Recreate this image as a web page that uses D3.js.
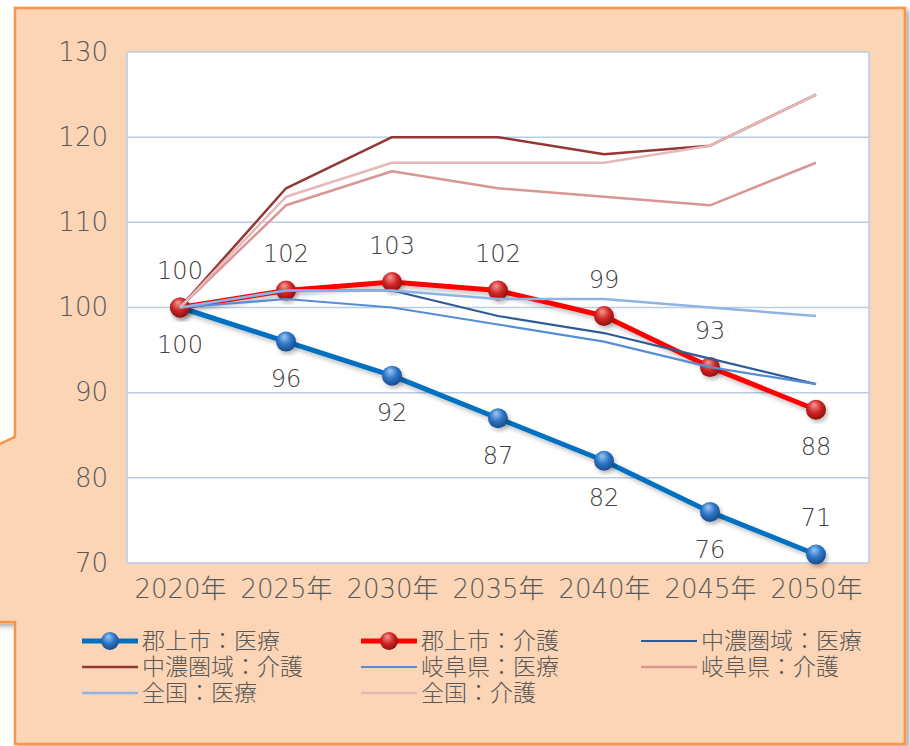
<!DOCTYPE html>
<html lang="ja">
<head>
<meta charset="utf-8">
<title>医療・介護需要の推移</title>
<script src="https://d3js.org/d3.v7.min.js"></script>
<style>
  html, body { margin: 0; padding: 0; background: #ffffff; }
  svg { display: block; }
  .tick-label { font-family: "DejaVu Sans", "Noto Sans CJK JP", sans-serif; font-size: 26px; font-weight: 200; fill: #595959; }
  .data-label { font-family: "DejaVu Sans", sans-serif; font-size: 24px; font-weight: 200; fill: #404040; }
  .legend-label { font-family: "Noto Sans CJK JP", sans-serif; font-size: 23px; font-weight: 300; fill: #595959; }
</style>
</head>
<body>
<svg id="chart" width="910" height="746"></svg>
<script>
// ---- data ----
var years = ["2020年", "2025年", "2030年", "2035年", "2040年", "2045年", "2050年"];
var yTicks = [70, 80, 90, 100, 110, 120, 130];

var gujoIryo    = [100, 96, 92, 87, 82, 76, 71];
var gujoKaigo   = [100, 102, 103, 102, 99, 93, 88];
var chunoIryo   = [100, 102, 102, 99, 97, 94, 91];
var chunoKaigo  = [100, 114, 120, 120, 118, 119, 125];
var gifuIryo    = [100, 101, 100, 98, 96, 93, 91];
var gifuKaigo   = [100, 112, 116, 114, 113, 112, 117];
var zenkokuIryo = [100, 102, 102, 101, 101, 100, 99];
var zenkokuKaigo= [100, 113, 117, 117, 117, 119, 125];

var series = [
  {name: "郡上市：医療",   values: gujoIryo,    color: "#0070C0", width: 5,   marker: "blue", label: "below"},
  {name: "郡上市：介護",   values: gujoKaigo,   color: "#FF0000", width: 5,   marker: "red",  label: "above"},
  {name: "中濃圏域：医療", values: chunoIryo,   color: "#2F5C96", width: 2.2},
  {name: "中濃圏域：介護", values: chunoKaigo,  color: "#943634", width: 2.5},
  {name: "岐阜県：医療",   values: gifuIryo,    color: "#558ED5", width: 2.2},
  {name: "岐阜県：介護",   values: gifuKaigo,   color: "#D99694", width: 2.5},
  {name: "全国：医療",     values: zenkokuIryo, color: "#8EB4E3", width: 2.5},
  {name: "全国：介護",     values: zenkokuKaigo,color: "#E6B9B8", width: 2.5}
];

var svg = d3.select("#chart");
var defs = svg.append("defs");

// shadows
var sh = defs.append("filter").attr("id", "boxShadow")
  .attr("x", "-10%").attr("y", "-10%").attr("width", "130%").attr("height", "130%");
sh.append("feDropShadow").attr("dx", 3).attr("dy", 3).attr("stdDeviation", 2.5)
  .attr("flood-color", "#000").attr("flood-opacity", 0.35);

var lsh = defs.append("filter").attr("id", "lineShadow")
  .attr("x", "-10%").attr("y", "-10%").attr("width", "130%").attr("height", "130%");
lsh.append("feDropShadow").attr("dx", 2).attr("dy", 3).attr("stdDeviation", 2)
  .attr("flood-color", "#000").attr("flood-opacity", 0.25);

// sphere gradients for the markers
function sphere(id, light, mid, dark) {
  var g = defs.append("radialGradient").attr("id", id)
    .attr("cx", "45%").attr("cy", "40%").attr("r", "60%").attr("fx", "40%").attr("fy", "25%");
  g.append("stop").attr("offset", "0%").attr("stop-color", light);
  g.append("stop").attr("offset", "55%").attr("stop-color", mid);
  g.append("stop").attr("offset", "100%").attr("stop-color", dark);
}
sphere("blue", "#9CC8F2", "#2E75C6", "#1A4C8A");
sphere("red", "#F29C9C", "#D32626", "#8E0F0F");

// callout box
var box = [[15, 8], [905, 8], [905, 744], [15, 744], [15, 622], [-40, 622], [-40, 462], [15, 437]];
svg.append("path")
  .attr("d", "M" + box.map(function(p) { return p.join(","); }).join("L") + "Z")
  .attr("fill", "#FBD5B5")
  .attr("stroke", "#F79646")
  .attr("stroke-width", 2.5)
  .attr("filter", "url(#boxShadow)");

// scales
var plot = {left: 127, top: 52, right: 869, bottom: 563};
var x = d3.scalePoint().domain(years).range([plot.left, plot.right]).padding(0.5);
var y = d3.scaleLinear().domain([70, 130]).range([plot.bottom, plot.top]);

svg.append("rect")
  .attr("x", plot.left).attr("y", plot.top)
  .attr("width", plot.right - plot.left).attr("height", plot.bottom - plot.top)
  .attr("fill", "#ffffff");

// gridlines
svg.append("g").selectAll("line").data(yTicks).join("line")
  .attr("x1", plot.left).attr("x2", plot.right)
  .attr("y1", function(d) { return y(d); }).attr("y2", function(d) { return y(d); })
  .attr("stroke", "#B9CDE5").attr("stroke-width", 1.5);

svg.append("line")
  .attr("x1", plot.left).attr("x2", plot.left).attr("y1", plot.top).attr("y2", plot.bottom)
  .attr("stroke", "#B9CDE5").attr("stroke-width", 1.5);
svg.append("line")
  .attr("x1", plot.right).attr("x2", plot.right).attr("y1", plot.top).attr("y2", plot.bottom)
  .attr("stroke", "#B9CDE5").attr("stroke-width", 1.5);

// axes
var yAxis = svg.append("g").attr("transform", "translate(" + plot.left + ",0)")
  .call(d3.axisLeft(y).tickValues(yTicks).tickSize(0).tickPadding(19));
yAxis.select(".domain").remove();
yAxis.selectAll("text").attr("class", "tick-label").attr("fill", null).attr("font-size", null).attr("font-family", null);

var xAxis = svg.append("g").attr("transform", "translate(0," + plot.bottom + ")")
  .call(d3.axisBottom(x).tickSize(0).tickPadding(17));
xAxis.select(".domain").remove();
xAxis.selectAll("text").attr("class", "tick-label").attr("fill", null).attr("font-size", null).attr("font-family", null);

// lines
var line = d3.line()
  .x(function(d, i) { return x(years[i]); })
  .y(function(d) { return y(d); });

series.forEach(function(s) {
  var g = svg.append("g");
  g.append("path")
    .attr("d", line(s.values))
    .attr("fill", "none")
    .attr("stroke", s.color)
    .attr("stroke-width", s.width)
    .attr("stroke-linejoin", "round")
    .attr("filter", s.marker ? "url(#lineShadow)" : null);
  if (s.marker) {
    g.selectAll("circle").data(s.values).join("circle")
      .attr("cx", function(d, i) { return x(years[i]); })
      .attr("cy", function(d) { return y(d); })
      .attr("r", 10)
      .attr("fill", "url(#" + s.marker + ")")
      .attr("filter", "url(#lineShadow)");
  }
});

// data labels
series.filter(function(s) { return s.label; }).forEach(function(s) {
  svg.append("g").selectAll("text").data(s.values).join("text")
    .attr("class", "data-label")
    .attr("text-anchor", "middle")
    .attr("x", function(d, i) { return x(years[i]); })
    .attr("y", function(d, i) {
      var below = s.label === "below";
      if (i === s.values.length - 1) below = !below;
      return y(d) + (below ? 37 : -37);
    })
    .attr("dy", "0.36em")
    .text(function(d) { return d; });
});

// legend
var colX = [82, 361, 641];
var rowY = [641, 667, 693];
var legend = svg.append("g");
series.forEach(function(s, i) {
  var lx = colX[i % 3], ly = rowY[Math.floor(i / 3)];
  var item = legend.append("g");
  item.append("line")
    .attr("x1", lx).attr("x2", lx + 56).attr("y1", ly).attr("y2", ly)
    .attr("stroke", s.color).attr("stroke-width", s.width);
  if (s.marker) {
    item.append("circle").attr("cx", lx + 28).attr("cy", ly).attr("r", 9)
      .attr("fill", "url(#" + s.marker + ")");
  }
  item.append("text")
    .attr("class", "legend-label")
    .attr("x", lx + 60).attr("y", ly)
    .attr("dy", "0.36em")
    .text(s.name);
});
</script>
</body>
</html>
